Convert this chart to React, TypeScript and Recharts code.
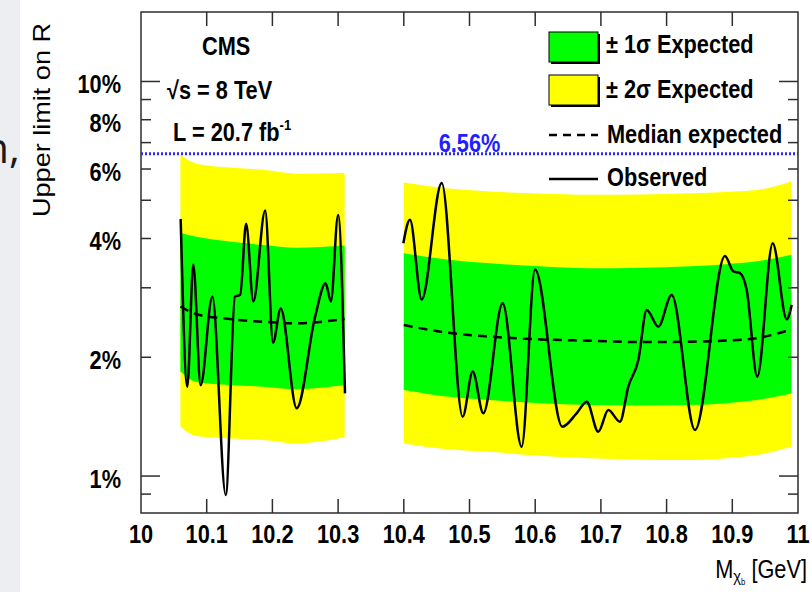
import type { ReactNode } from 'react';
import { Area, ComposedChart, Line, ReferenceArea, ReferenceLine, XAxis, YAxis } from 'recharts';

const W = 812;
const H = 592;
const PLOT = { left: 141, right: 798, top: 12, bottom: 513 };
const FONT = '"Liberation Sans", Arial, Helvetica, sans-serif';
const INK = '#2e2e2e';

const massTicks = [10, 10.1, 10.2, 10.3, 10.4, 10.5, 10.6, 10.7, 10.8, 10.9, 11];
const limitTicks = [0.9, 1, 2, 3, 4, 5, 6, 7, 8, 9, 10];
const limitLabels: Record<number, string> = { 1: '1%', 2: '2%', 4: '4%', 6: '6%', 8: '8%', 10: '10%' };
const limitDomain = [0.806, 15];
const observedLimit = 6.56;

// expected bands, lower mass window
const band1Mass = [10.06, 10.085, 10.135, 10.186, 10.237, 10.31];
const band1YellowLo = [1.334, 1.263, 1.245, 1.234, 1.21, 1.254];
const band1GreenLo = [1.84, 1.73, 1.7, 1.685, 1.66, 1.7];
const band1Median = [2.69, 2.57, 2.5, 2.46, 2.44, 2.5];
const band1GreenHi = [4.13, 4.04, 3.93, 3.85, 3.79, 3.84];
const band1YellowHi = [6.52, 6.19, 6.05, 5.97, 5.84, 5.86];

// expected bands, upper mass window
const band2Mass = [10.4, 10.465, 10.531, 10.607, 10.683, 10.76, 10.836, 10.89, 10.937, 10.99];
const band2YellowLo = [1.21, 1.17, 1.152, 1.125, 1.109, 1.1, 1.098, 1.11, 1.13, 1.187];
const band2GreenLo = [1.652, 1.59, 1.558, 1.53, 1.514, 1.51, 1.514, 1.53, 1.558, 1.62];
const band2Median = [2.415, 2.31, 2.256, 2.22, 2.203, 2.185, 2.19, 2.205, 2.235, 2.355];
const band2GreenHi = [3.67, 3.54, 3.46, 3.4, 3.36, 3.37, 3.4, 3.44, 3.5, 3.64];
const band2YellowHi = [5.545, 5.36, 5.26, 5.2, 5.16, 5.17, 5.21, 5.25, 5.31, 5.58];

// observed limit
const obs1Mass = [10.0604, 10.0705, 10.0796, 10.0908, 10.1086, 10.129, 10.143, 10.151, 10.16, 10.171, 10.189, 10.201, 10.2126, 10.237, 10.265, 10.281, 10.289, 10.3, 10.3105];
const obs1Limit = [4.48, 1.685, 3.43, 1.7, 2.85, 0.895, 2.85, 2.88, 4.36, 2.77, 4.71, 2.18, 2.66, 1.485, 2.535, 3.08, 2.77, 4.59, 1.62];
const obs2Mass = [10.3993, 10.4094, 10.4272, 10.4577, 10.4896, 10.5049, 10.521, 10.5505, 10.5794, 10.5997, 10.6413, 10.663, 10.6784, 10.696, 10.7113, 10.729, 10.7417, 10.757, 10.7697, 10.7874, 10.8077, 10.8432, 10.8889, 10.9015, 10.9117, 10.9219, 10.938, 10.9615, 10.9828, 10.9904];
const obs2Limit = [3.89, 4.46, 2.8, 5.53, 1.414, 1.84, 1.442, 2.74, 1.187, 3.34, 1.334, 1.442, 1.543, 1.295, 1.47, 1.373, 1.685, 1.968, 2.636, 2.392, 2.877, 1.308, 3.61, 3.3, 3.27, 2.963, 1.786, 3.89, 2.497, 2.715];

const gapMass = 10.355;

const bandRows = (mass: number[], yLo: number[], gLo: number[], med: number[], gHi: number[], yHi: number[]) =>
  mass.map((m, i) => ({ m, yellow: [yLo[i], yHi[i]], green: [gLo[i], gHi[i]], median: med[i] }));

const bandData = [
  ...bandRows(band1Mass, band1YellowLo, band1GreenLo, band1Median, band1GreenHi, band1YellowHi),
  { m: gapMass, yellow: null, green: null, median: null },
  ...bandRows(band2Mass, band2YellowLo, band2GreenLo, band2Median, band2GreenHi, band2YellowHi),
];

const obsData = [
  ...obs1Mass.map((m, i) => ({ m, obs: obs1Limit[i] })),
  { m: gapMass, obs: null },
  ...obs2Mass.map((m, i) => ({ m, obs: obs2Limit[i] })),
];

function CondText({ x, y, anchor = 'start', size = 25, weight = 700, fill = '#000', children }: {
  x: number; y: number; anchor?: 'start' | 'middle' | 'end'; size?: number; weight?: number; fill?: string; children: ReactNode;
}) {
  return (
    <text transform={`translate(${x} ${y}) scale(0.87 1)`} textAnchor={anchor} fontSize={size} fontWeight={weight} fontFamily={FONT} fill={fill}>
      {children}
    </text>
  );
}

function MassTick(props: any) {
  const { x, y, payload } = props;
  const edge = payload.value === 10 || payload.value === 11;
  return (
    <g>
      {!edge && <line x1={x} x2={x} y1={y} y2={y - 14} stroke={INK} strokeWidth={1.5} />}
      {!edge && <line x1={x} x2={x} y1={PLOT.top} y2={PLOT.top + 14} stroke={INK} strokeWidth={1.5} />}
      <CondText x={x} y={y + 30} anchor="middle">{String(payload.value)}</CondText>
    </g>
  );
}

function LimitTick(props: any) {
  const { x, y, payload } = props;
  const len = payload.value === 1 || payload.value === 10 ? 19 : 10;
  const label = limitLabels[payload.value];
  return (
    <g>
      <line x1={x} x2={x + len} y1={y} y2={y} stroke={INK} strokeWidth={1.5} />
      <line x1={PLOT.right} x2={PLOT.right - len} y1={y} y2={y} stroke={INK} strokeWidth={1.5} />
      {label && <CondText x={x - 20} y={y + 12} anchor="end">{label}</CondText>}
    </g>
  );
}

function LimitLabel(props: any) {
  const vb = props.viewBox;
  return <CondText x={vb.x + vb.width / 2} y={vb.y - 2} anchor="middle" fill="#1f1fff">6.56%</CondText>;
}

function LegendBox({ y, fill }: { y: number; fill: string }) {
  return (
    <g>
      <rect x={551} y={y + 2} width={49} height={30} fill="#000" />
      <rect x={549} y={y} width={49} height={30} fill={fill} stroke="#000" strokeWidth={1} />
    </g>
  );
}

function Overlay() {
  return (
    <svg width={W} height={H} style={{ position: 'absolute', left: 0, top: 0, pointerEvents: 'none' }}>
      <rect x={0} y={0} width={20} height={H} fill="#edeef2" />
      <text x={20} y={163} textAnchor="end" fontSize={42} fontFamily={'"Open Sans", sans-serif'} fill="#1a1a1a">n,</text>
      <text transform="translate(50 120) rotate(-90)" textAnchor="middle" fontSize={24} fontFamily={FONT} textLength={194} lengthAdjust="spacingAndGlyphs" fill="#000">
        Upper limit on R
      </text>
      <text transform="translate(807 578) scale(0.87 1)" textAnchor="end" fontSize={25} fontFamily={FONT} fill="#000">
        M<tspan fontSize={17} dy={4}>χ</tspan><tspan fontSize={9} dy={3}>b</tspan><tspan fontSize={25} dy={-7}> [GeV]</tspan>
      </text>

      <CondText x={202} y={55}>CMS</CondText>
      <CondText x={167} y={99}>√s = 8 TeV</CondText>
      <CondText x={173} y={141}>
        L = 20.7 fb<tspan fontSize={15} dy={-11}>-1</tspan>
      </CondText>

      <LegendBox y={32} fill="#00ff00" />
      <LegendBox y={75} fill="#ffff00" />
      <line x1={549} x2={598} y1={135} y2={135} stroke="#000" strokeWidth={2.5} strokeDasharray="8 6" />
      <line x1={549} x2={598} y1={179} y2={179} stroke="#000" strokeWidth={2.5} />
      <CondText x={606} y={53}>± 1σ Expected</CondText>
      <CondText x={606} y={98}>± 2σ Expected</CondText>
      <CondText x={607} y={143}>Median expected</CondText>
      <CondText x={607} y={186}>Observed</CondText>
    </svg>
  );
}

export default function App() {
  return (
    <div style={{ position: 'absolute', left: 0, top: 0, width: W, height: H, background: '#fff', overflow: 'hidden' }}>
      <ComposedChart width={W} height={H} margin={{ top: PLOT.top, right: W - PLOT.right, bottom: 0, left: 0 }}>
        <XAxis
          dataKey="m"
          type="number"
          domain={[10, 11]}
          ticks={massTicks}
          interval={0}
          height={H - PLOT.bottom}
          axisLine={false}
          tickLine={false}
          tickSize={0}
          tickMargin={0}
          tick={<MassTick />}
          allowDataOverflow
        />
        <YAxis
          type="number"
          scale="log"
          domain={limitDomain}
          ticks={limitTicks}
          interval={0}
          width={PLOT.left}
          axisLine={false}
          tickLine={false}
          tickSize={0}
          tickMargin={0}
          tick={<LimitTick />}
          allowDataOverflow
        />
        <Area data={bandData} dataKey="yellow" type="monotone" fill="#ffff00" fillOpacity={1} stroke="none" isAnimationActive={false} />
        <Area data={bandData} dataKey="green" type="monotone" fill="#00ff00" fillOpacity={1} stroke="none" isAnimationActive={false} />
        <Line data={bandData} dataKey="median" type="monotone" stroke="#000" strokeWidth={2.5} strokeDasharray="9 6" dot={false} isAnimationActive={false} />
        <Line data={obsData} dataKey="obs" type="monotone" stroke="#000" strokeWidth={2.5} dot={false} isAnimationActive={false} />
        <ReferenceLine y={observedLimit} stroke="#2a2aff" strokeWidth={3} strokeDasharray="2 2" label={<LimitLabel />} />
        <ReferenceArea x1={10} x2={11} y1={limitDomain[0]} y2={limitDomain[1]} fill="none" stroke={INK} strokeWidth={1.5} />
      </ComposedChart>
      <Overlay />
    </div>
  );
}
